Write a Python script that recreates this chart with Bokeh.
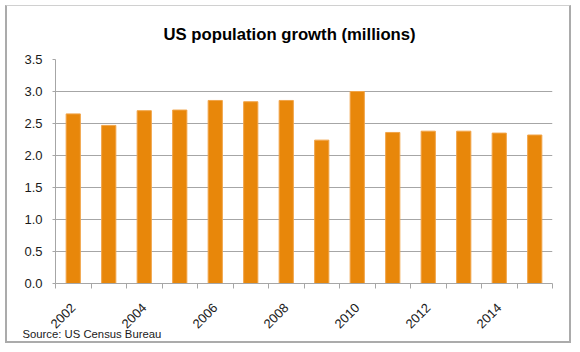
import math
from bokeh.plotting import figure
from bokeh.models import FixedTicker, Title
from bokeh.embed import file_html
from bokeh.resources import INLINE

# ---- data ----
years = [2002, 2003, 2004, 2005, 2006, 2007, 2008, 2009, 2010, 2011, 2012, 2013, 2014, 2015]
growth = [2.65, 2.47, 2.70, 2.71, 2.86, 2.84, 2.86, 2.24, 3.00, 2.36, 2.38, 2.38, 2.35, 2.32]
x_label_years = [2002, 2004, 2006, 2008, 2010, 2012, 2014]
x_labels = ["2002", "2004", "2006", "2008", "2010", "2012", "2014"]
y_ticks = [0.0, 0.5, 1.0, 1.5, 2.0, 2.5, 3.0, 3.5]
y_labels = ["0.0", "0.5", "1.0", "1.5", "2.0", "2.5", "3.0", "3.5"]
title_text = "US population growth (millions)"
source_text = "Source: US Census Bureau"

FONT = "Liberation Sans"
GRID = "#a6a6a6"
BAR = "#E8870A"

boundaries = [y - 0.5 for y in years] + [years[-1] + 0.5]

p = figure(
    width=566, height=338,
    x_range=(years[0] - 0.5, years[-1] + 0.5), y_range=(y_ticks[0], y_ticks[-1]),
    output_backend="svg", toolbar_location=None,
    min_border_left=48, min_border_right=21, min_border_top=53, min_border_bottom=61,
    styles={
        "margin-left": "5px", "margin-top": "5px",
        "border-left": "2px solid #ababab",
        "border-top": "1px solid #d0d0d0",
        "border-right": "2px solid #ababab",
        "border-bottom": "2px solid #ababab",
    },
)

p.vbar(x=years, top=growth, width=0.4, fill_color=BAR, line_color="#F1A448", line_width=1)

p.outline_line_color = None
p.background_fill_color = "white"
p.border_fill_color = "white"

p.xgrid.grid_line_color = None
p.ygrid.grid_line_color = GRID
p.ygrid.grid_line_width = 1

# x axis
xa = p.xaxis[0]
xa.ticker = FixedTicker(ticks=x_label_years, minor_ticks=boundaries)
xa.major_label_overrides = {y: s for y, s in zip(x_label_years, x_labels)}
xa.major_tick_out = 0
xa.major_tick_in = 0
xa.minor_tick_out = 5
xa.minor_tick_in = 0
xa.minor_tick_line_color = GRID
xa.axis_line_color = GRID
xa.major_label_orientation = math.pi / 4
xa.major_label_standoff = 17
xa.major_label_text_font = FONT
xa.major_label_text_font_size = "13px"
xa.major_label_text_color = "#1a1a1a"

# y axis
ya = p.yaxis[0]
ya.ticker = FixedTicker(ticks=y_ticks, minor_ticks=[])
ya.major_label_overrides = {t: s for t, s in zip(y_ticks, y_labels)}
ya.major_tick_out = 3
ya.major_tick_in = 0
ya.major_tick_line_color = GRID
ya.minor_tick_line_color = None
ya.axis_line_color = GRID
ya.major_label_standoff = 10
ya.major_label_text_font = FONT
ya.major_label_text_font_size = "13px"
ya.major_label_text_color = "#1a1a1a"

# title
p.title.text = title_text
p.title.align = "left"
p.title.text_font = FONT
p.title.text_font_size = "16.7px"
p.title.text_font_style = "bold"
p.title.text_color = "black"
p.title.standoff = 31
p.title.offset = 108

# source note
p.add_layout(Title(text=source_text, align="left", vertical_align="top", text_font=FONT,
                   text_font_size="11.3px", text_font_style="normal", text_color="#1a1a1a",
                   offset=-33, standoff=-16), "below")

open("out.html", "w").write(file_html(p, INLINE))
